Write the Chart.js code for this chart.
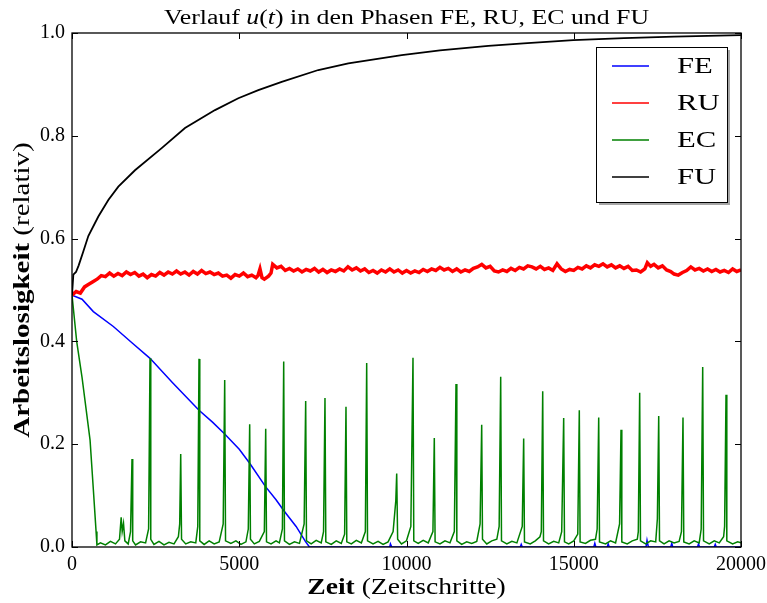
<!DOCTYPE html>
<html>
<head>
<meta charset="utf-8">
<script src="https://cdn.jsdelivr.net/npm/chart.js@4.4.0/dist/chart.umd.min.js"></script>
<style>
  html, body { margin: 0; padding: 0; background: #fff; }
  canvas { display: block; }
</style>
</head>
<body>
<canvas id="chart" width="767" height="603"></canvas>
<script>
const seriesNames = ['FE', 'RU', 'EC', 'FU'];
const xTicks = [0, 5000, 10000, 15000, 20000];
const yTicks = [0, 0.2, 0.4, 0.6, 0.8, 1.0];

// FE
const feTime = [0, 300, 638, 1236, 1800, 2332, 3000, 3797, 4200, 4565, 5000, 5312, 5791, 6100, 6329, 6700, 6986, 7100,
  9500, 9520, 9560, 13400, 13430, 13460, 15600, 15630, 15660, 16000, 16030, 16060, 17160, 17190, 17230, 17900, 17930, 17960,
  18700, 18730, 18760, 19200, 19230, 19260, 20000];
const feValue = [0.490, 0.482, 0.458, 0.429, 0.397, 0.367, 0.320, 0.266, 0.243, 0.220, 0.190, 0.163, 0.117, 0.092, 0.071, 0.040, 0.010, 0.000,
  0.000, 0.006, 0.000, 0.000, 0.005, 0.000, 0.000, 0.007, 0.000, 0.000, 0.006, 0.000, 0.000, 0.013, 0.000, 0.000, 0.007, 0.000,
  0.000, 0.006, 0.000, 0.000, 0.005, 0.000, 0.000];

// RU
const ruTime = [0, 125, 250, 375, 500, 625, 750, 875, 1000, 1125, 1250, 1375, 1500, 1625, 1750, 1875, 2000, 2125, 2250,
  2375, 2500, 2625, 2750, 2875, 3000, 3125, 3250, 3375, 3500, 3625, 3750, 3875, 4000, 4125, 4250, 4375, 4500, 4625,
  4750, 4875, 5000, 5125, 5250, 5375, 5500, 5560, 5620, 5680, 5750, 5875, 5950, 6000, 6125, 6250, 6375, 6500, 6625,
  6750, 6875, 7000, 7125, 7250, 7375, 7500, 7625, 7750, 7875, 8000, 8125, 8250, 8375, 8500, 8625, 8750, 8875, 9000,
  9125, 9250, 9375, 9500, 9625, 9750, 9875, 10000, 10125, 10250, 10375, 10500, 10625, 10750, 10875, 11000, 11125,
  11250, 11375, 11500, 11625, 11750, 11875, 12000, 12125, 12250, 12375, 12500, 12625, 12750, 12875, 13000, 13125,
  13250, 13375, 13500, 13625, 13750, 13875, 14000, 14125, 14250, 14375, 14500, 14625, 14750, 14875, 15000, 15125,
  15250, 15375, 15500, 15625, 15750, 15875, 16000, 16125, 16250, 16375, 16500, 16625, 16750, 16875, 17000, 17125,
  17200, 17300, 17400, 17525, 17650, 17775, 17900, 18000, 18125, 18250, 18375, 18500, 18625, 18750, 18875, 19000,
  19125, 19250, 19375, 19500, 19625, 19750, 19875, 20000];
const ruValue = [0.490, 0.497, 0.494, 0.506, 0.511, 0.516, 0.521, 0.528, 0.526, 0.533, 0.527, 0.532, 0.528, 0.535, 0.530, 0.534, 0.527, 0.531, 0.524,
  0.530, 0.527, 0.534, 0.529, 0.535, 0.531, 0.537, 0.531, 0.535, 0.529, 0.536, 0.531, 0.538, 0.532, 0.535, 0.530, 0.533, 0.527, 0.529,
  0.523, 0.530, 0.527, 0.533, 0.526, 0.529, 0.524, 0.528, 0.541, 0.524, 0.521, 0.527, 0.533, 0.550, 0.543, 0.546, 0.538, 0.542, 0.537,
  0.541, 0.535, 0.540, 0.537, 0.542, 0.535, 0.540, 0.534, 0.539, 0.536, 0.541, 0.537, 0.545, 0.539, 0.543, 0.537, 0.541, 0.534, 0.538,
  0.533, 0.539, 0.535, 0.541, 0.535, 0.539, 0.533, 0.538, 0.533, 0.537, 0.534, 0.540, 0.536, 0.541, 0.538, 0.544, 0.539,
  0.542, 0.536, 0.541, 0.535, 0.539, 0.536, 0.542, 0.545, 0.550, 0.543, 0.546, 0.537, 0.535, 0.539, 0.536, 0.542,
  0.538, 0.544, 0.541, 0.547, 0.545, 0.541, 0.546, 0.540, 0.543, 0.538, 0.551, 0.541, 0.536, 0.540, 0.538, 0.544,
  0.541, 0.547, 0.543, 0.549, 0.546, 0.551, 0.545, 0.549, 0.543, 0.547, 0.542, 0.546, 0.538, 0.539, 0.535, 0.541,
  0.553, 0.546, 0.550, 0.543, 0.547, 0.539, 0.536, 0.531, 0.529, 0.534, 0.538, 0.545, 0.539, 0.542, 0.537, 0.541,
  0.536, 0.540, 0.535, 0.538, 0.534, 0.541, 0.536, 0.539];

// EC
const ecTime = [0, 140, 300, 540, 640, 720, 745, 850, 1000, 1150, 1300, 1420, 1470, 1500, 1540, 1580, 1680,
  1750, 1794, 1815, 1900, 2050, 2200, 2290, 2332, 2355, 2450, 2600, 2750, 2900, 3050, 3180, 3220, 3250, 3275,
  3400, 3550, 3700, 3760, 3797, 3820, 3950, 4100, 4250, 4400, 4520, 4565, 4590, 4750, 4900, 5050, 5200,
  5270, 5312, 5335, 5450, 5600, 5750, 5791, 5815, 5950, 6100, 6200, 6290, 6329, 6352, 6500, 6650, 6800,
  6940, 6986, 7010, 7150, 7300, 7450, 7520, 7563, 7588, 7750, 7900, 8050, 8150, 8191, 8215, 8350, 8500, 8650,
  8770, 8810, 8835, 9000, 9150, 9300, 9450, 9600, 9680, 9707, 9735, 9850, 10000, 10130, 10194, 10218, 10350,
  10500, 10650, 10790, 10831, 10855, 11000, 11150, 11300, 11430, 11480, 11505, 11650, 11800, 11950, 12100,
  12200, 12248, 12272, 12400, 12550, 12700, 12770, 12816, 12840, 13000, 13150, 13300, 13460, 13503, 13527,
  13700, 13850, 13990, 14030, 14072, 14096, 14250, 14400, 14550, 14640, 14699, 14723, 14850, 15000, 15120,
  15166, 15190, 15350, 15500, 15650, 15700, 15746, 15770, 15950, 16100, 16250, 16370, 16413, 16437, 16600,
  16750, 16900, 16930, 16971, 16995, 17150, 17300, 17450, 17500, 17540, 17564, 17700, 17850, 18000, 18150,
  18220, 18266, 18290, 18450, 18600, 18750, 18810, 18855, 18880, 19050, 19200, 19350, 19480, 19510, 19552,
  19576, 19750, 19900, 20000];
const ecValue = [0.490, 0.400, 0.330, 0.208, 0.110, 0.030, 0.004, 0.008, 0.004, 0.011, 0.006, 0.015, 0.058, 0.030, 0.046, 0.012, 0.006,
  0.030, 0.171, 0.012, 0.004, 0.010, 0.008, 0.035, 0.367, 0.015, 0.005, 0.011, 0.004, 0.009, 0.006, 0.020, 0.045, 0.181, 0.015,
  0.006, 0.010, 0.008, 0.040, 0.366, 0.012, 0.005, 0.012, 0.006, 0.010, 0.045, 0.325, 0.012, 0.007, 0.012, 0.005, 0.010,
  0.035, 0.239, 0.015, 0.006, 0.011, 0.030, 0.230, 0.010, 0.006, 0.012, 0.008, 0.035, 0.361, 0.012, 0.005, 0.010, 0.007,
  0.045, 0.284, 0.012, 0.006, 0.013, 0.008, 0.030, 0.290, 0.010, 0.005, 0.012, 0.007, 0.025, 0.273, 0.010, 0.006, 0.013, 0.008,
  0.030, 0.358, 0.012, 0.006, 0.011, 0.005, 0.010, 0.030, 0.090, 0.143, 0.015, 0.006, 0.012, 0.040, 0.368, 0.012, 0.007,
  0.013, 0.008, 0.030, 0.212, 0.010, 0.006, 0.012, 0.008, 0.030, 0.317, 0.012, 0.005, 0.010, 0.007, 0.011,
  0.045, 0.238, 0.015, 0.006, 0.012, 0.015, 0.040, 0.331, 0.012, 0.006, 0.011, 0.008, 0.040, 0.211, 0.010,
  0.006, 0.012, 0.020, 0.030, 0.303, 0.012, 0.006, 0.011, 0.008, 0.030, 0.251, 0.010, 0.006, 0.012, 0.025,
  0.266, 0.010, 0.007, 0.013, 0.015, 0.035, 0.252, 0.010, 0.006, 0.012, 0.008, 0.045, 0.228, 0.010, 0.006,
  0.012, 0.015, 0.030, 0.300, 0.012, 0.006, 0.012, 0.010, 0.055, 0.255, 0.012, 0.006, 0.012, 0.008, 0.011,
  0.030, 0.252, 0.010, 0.006, 0.012, 0.008, 0.035, 0.350, 0.012, 0.006, 0.012, 0.008, 0.020, 0.040, 0.296,
  0.012, 0.006, 0.010, 0.008];

// FU
const fuTime = [0, 40, 120, 200, 338, 488, 787, 1086, 1385, 1883, 2681, 3378, 4275, 4972, 5570, 6269, 7364, 8261,
  9857, 11000, 12447, 13500, 14988, 16500, 18000, 20000];
const fuValue = [0.490, 0.530, 0.535, 0.548, 0.575, 0.605, 0.643, 0.675, 0.701, 0.733, 0.776, 0.815, 0.850, 0.873, 0.889, 0.905, 0.928, 0.941,
  0.957, 0.966, 0.975, 0.980, 0.986, 0.990, 0.993, 0.996];

const serif = '"Liberation Serif", "DejaVu Serif", serif';

function toPoints(ts, vs) {
  return ts.map((t, i) => ({ x: t, y: vs[i] }));
}

// text drawn in pieces (bold / italic parts), stretched a bit sideways like the TeX font
function drawRuns(ctx, runs, x, y, align, sx) {
  let total = 0;
  runs.forEach(r => { ctx.font = r.font; total += ctx.measureText(r.text).width; });
  ctx.save();
  ctx.translate(x, y);
  ctx.scale(sx, 1);
  let cx = align === 'center' ? -total / 2 : 0;
  ctx.textAlign = 'left';
  runs.forEach(r => {
    ctx.font = r.font;
    ctx.fillText(r.text, cx, 0);
    cx += ctx.measureText(r.text).width;
  });
  ctx.restore();
}

const framePlugin = {
  id: 'frame',
  afterDraw(chart) {
    const ctx = chart.ctx;
    const a = chart.chartArea;
    const xs = chart.scales.x, ys = chart.scales.y;
    ctx.save();
    ctx.strokeStyle = '#000';
    ctx.fillStyle = '#000';

    // inside ticks on all four sides
    ctx.lineWidth = 1;
    ctx.beginPath();
    xTicks.forEach(v => {
      const px = Math.round(xs.getPixelForValue(v)) + 0.5;
      ctx.moveTo(px, a.bottom); ctx.lineTo(px, a.bottom - 6);
      ctx.moveTo(px, a.top); ctx.lineTo(px, a.top + 6);
    });
    yTicks.forEach(v => {
      const py = Math.round(ys.getPixelForValue(v)) + 0.5;
      ctx.moveTo(a.left, py); ctx.lineTo(a.left + 6, py);
      ctx.moveTo(a.right, py); ctx.lineTo(a.right - 6, py);
    });
    ctx.stroke();

    ctx.lineWidth = 1.3;
    ctx.strokeRect(a.left, a.top, a.right - a.left, a.bottom - a.top);

    // title
    ctx.textBaseline = 'alphabetic';
    drawRuns(ctx, [
      { text: 'Verlauf ', font: '20px ' + serif },
      { text: 'u', font: 'italic 20px ' + serif },
      { text: '(', font: '20px ' + serif },
      { text: 't', font: 'italic 20px ' + serif },
      { text: ') in den Phasen FE, RU, EC und FU', font: '20px ' + serif }
    ], (a.left + a.right) / 2, 24, 'center', 1.29);

    // x axis title
    drawRuns(ctx, [
      { text: 'Zeit', font: 'bold 23px ' + serif },
      { text: ' (Zeitschritte)', font: '23px ' + serif }
    ], (a.left + a.right) / 2, 594, 'center', 1.2);

    // y axis title
    ctx.save();
    ctx.translate(29, (a.top + a.bottom) / 2);
    ctx.rotate(-Math.PI / 2);
    drawRuns(ctx, [
      { text: 'Arbeitslosigkeit', font: 'bold 23px ' + serif },
      { text: ' (relativ)', font: '23px ' + serif }
    ], 0, 0, 'center', 1.26);
    ctx.restore();

    // legend box with shadow
    const lx = 596, ly = 47, lw = 131, lh = 155;
    ctx.fillStyle = 'rgba(0,0,0,0.35)';
    ctx.fillRect(lx + 3, ly + 3, lw, lh);
    ctx.fillStyle = '#fff';
    ctx.fillRect(lx, ly, lw, lh);
    ctx.lineWidth = 1;
    ctx.strokeStyle = '#000';
    ctx.strokeRect(lx + 0.5, ly + 0.5, lw, lh);
    ctx.textBaseline = 'middle';
    chart.data.datasets.forEach((ds, i) => {
      const y = 66 + i * 37;
      ctx.strokeStyle = ds.borderColor;
      ctx.lineWidth = 1.5;
      ctx.beginPath();
      ctx.moveTo(612, y); ctx.lineTo(649, y);
      ctx.stroke();
      ctx.fillStyle = '#000';
      drawRuns(ctx, [{ text: ds.label, font: '24px ' + serif }], 677, y + 1, 'left', 1.28);
    });
    ctx.restore();
  }
};

new Chart(document.getElementById('chart'), {
  type: 'line',
  data: {
    datasets: [
      { label: seriesNames[0], data: toPoints(feTime, feValue), borderColor: '#0000ff', borderWidth: 1.5, order: 4 },
      { label: seriesNames[1], data: toPoints(ruTime, ruValue), borderColor: '#ff0000', borderWidth: 3.5, order: 3 },
      { label: seriesNames[2], data: toPoints(ecTime, ecValue), borderColor: '#008000', borderWidth: 1.5, order: 2 },
      { label: seriesNames[3], data: toPoints(fuTime, fuValue), borderColor: '#000000', borderWidth: 1.8, order: 1 }
    ]
  },
  options: {
    responsive: false,
    animation: false,
    layout: { padding: { top: 33, right: 26, left: 0, bottom: 0 } },
    elements: { point: { radius: 0 }, line: { tension: 0, fill: false } },
    plugins: { legend: { display: false }, title: { display: false }, tooltip: { enabled: false } },
    scales: {
      x: {
        type: 'linear', min: 0, max: 20000,
        afterBuildTicks: s => { s.ticks = xTicks.map(v => ({ value: v })); },
        afterFit: s => { s.height = 56; s.paddingLeft = 0; s.paddingRight = 0; },
        ticks: { color: '#000', padding: 6, maxRotation: 0, font: { family: serif, size: 20 }, callback: v => String(v) },
        grid: { display: false, drawTicks: false },
        border: { display: false }
      },
      y: {
        min: 0, max: 1,
        afterBuildTicks: s => { s.ticks = yTicks.map(v => ({ value: v })); },
        afterFit: s => { s.width = 72; s.paddingTop = 0; s.paddingBottom = 0; },
        ticks: { color: '#000', padding: 7, font: { family: serif, size: 20 }, callback: v => v.toFixed(1) },
        grid: { display: false, drawTicks: false },
        border: { display: false }
      }
    }
  },
  plugins: [framePlugin]
});
</script>
</body>
</html>
